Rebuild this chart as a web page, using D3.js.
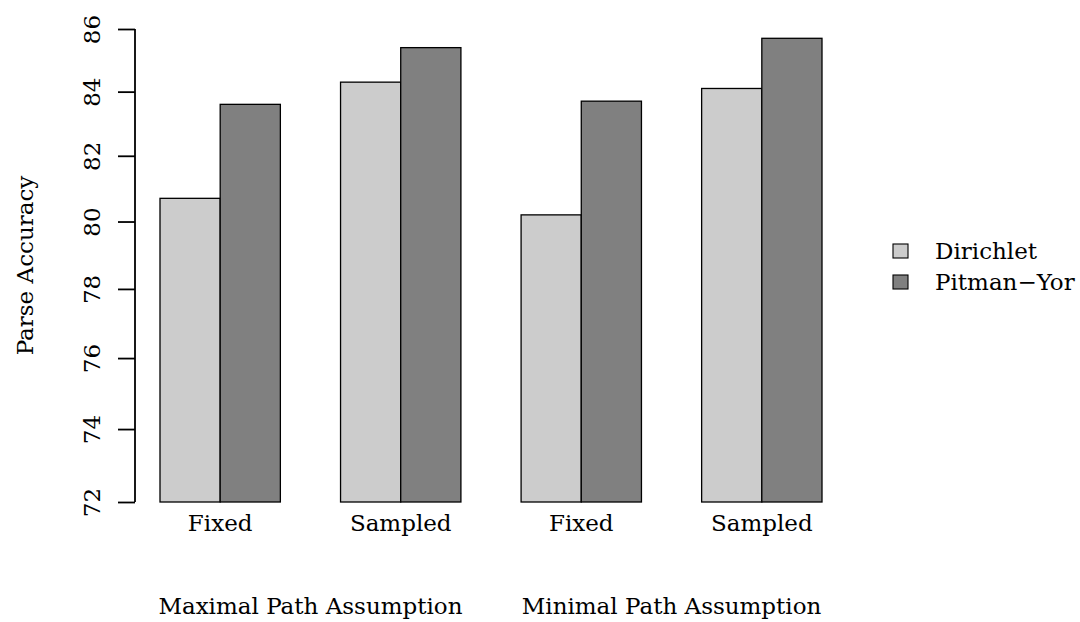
<!DOCTYPE html>
<html>
<head>
<meta charset="utf-8">
<script src="https://cdn.jsdelivr.net/npm/d3@7"></script>
<style>
  html, body { margin: 0; padding: 0; background: #ffffff; }
  svg { display: block; }
  text { font-family: "DejaVu Serif", serif; fill: #000; }
</style>
</head>
<body>
<svg id="chart" width="1080" height="622"></svg>
<script>
// Parse accuracy per setting, grouped by path assumption
const groups = ["Maximal Path Assumption", "Minimal Path Assumption"];
const settings = ["Fixed", "Sampled", "Fixed", "Sampled"];
const groupOf = [0, 0, 1, 1];
const seriesNames = ["Dirichlet", "Pitman\u2212Yor"];
const dirichlet = [80.7, 84.3, 80.2, 84.1];
const pitmanYor = [83.6, 85.4, 83.7, 85.7];
const yTicks = [72, 74, 76, 78, 80, 82, 84, 86];
const fills = ["#cccccc", "#808080"];

const svg = d3.select("#chart");
const fontSize = 23;

// y axis is logarithmic, bars rise from the lower limit
const y = d3.scaleLog().domain([72, 86]).range([502, 29]);

// x positions measured in bar widths: each cluster of two bars is preceded by a one-bar gap
const x = d3.scaleLinear().domain([1, 12]).range([160, 822]);

const series = [dirichlet, pitmanYor];
const bars = [];
settings.forEach((s, i) => {
  series.forEach((vals, j) => {
    bars.push({ i, j, value: vals[i], left: 1 + i * 3 + j });
  });
});

svg.append("g").selectAll("rect")
  .data(bars)
  .join("rect")
  .attr("x", d => x(d.left))
  .attr("width", d => x(d.left + 1) - x(d.left))
  .attr("y", d => y(d.value))
  .attr("height", d => y(72) - y(d.value))
  .attr("fill", d => fills[d.j])
  .attr("stroke", "#000")
  .attr("stroke-width", 1.3);

// y axis
const axisX = 135;
const yAxis = d3.axisLeft(y).tickValues(yTicks).tickFormat(d3.format("d")).tickSize(17).tickPadding(4);
const ag = svg.append("g").attr("transform", `translate(${axisX},0)`).call(yAxis);
ag.select(".domain").attr("d", `M0,${y(72)}V${y(86)}`).attr("stroke", "#000").attr("stroke-width", 1.8).attr("fill", "none");
ag.selectAll(".tick line").attr("stroke", "#000").attr("stroke-width", 1.8);
ag.selectAll(".tick text")
  .attr("font-family", "DejaVu Serif, serif")
  .attr("font-size", fontSize)
  .attr("text-anchor", "middle")
  .attr("dy", null)
  .attr("x", null)
  .attr("transform", "translate(-35,0) rotate(-90)")
  .attr("y", 0);

// y title
svg.append("text")
  .attr("transform", `translate(33,${(y(72) + y(86)) / 2}) rotate(-90)`)
  .attr("text-anchor", "middle")
  .attr("font-size", fontSize)
  .text("Parse Accuracy");

// setting labels under each cluster
svg.append("g").selectAll("text")
  .data(settings)
  .join("text")
  .attr("x", (d, i) => x(2 + i * 3))
  .attr("y", 531)
  .attr("text-anchor", "middle")
  .attr("font-size", fontSize)
  .text(d => d);

// path-assumption labels centred under their two clusters
svg.append("g").selectAll("text")
  .data(groups)
  .join("text")
  .attr("x", (d, g) => {
    const idx = groupOf.map((v, k) => v === g ? k : -1).filter(k => k >= 0);
    return (x(2 + idx[0] * 3) + x(2 + idx[idx.length - 1] * 3)) / 2;
  })
  .attr("y", 614)
  .attr("text-anchor", "middle")
  .attr("font-size", fontSize)
  .text(d => d);

// legend
const legend = svg.append("g").attr("transform", "translate(893,244)");
const items = legend.selectAll("g")
  .data(seriesNames)
  .join("g")
  .attr("transform", (d, j) => `translate(0,${j * 31})`);
items.append("rect")
  .attr("width", 15).attr("height", 14)
  .attr("fill", (d, j) => fills[j])
  .attr("stroke", "#000").attr("stroke-width", 1.1);
items.append("text")
  .attr("x", 42).attr("y", 15)
  .attr("font-size", fontSize)
  .text(d => d);
</script>
</body>
</html>
